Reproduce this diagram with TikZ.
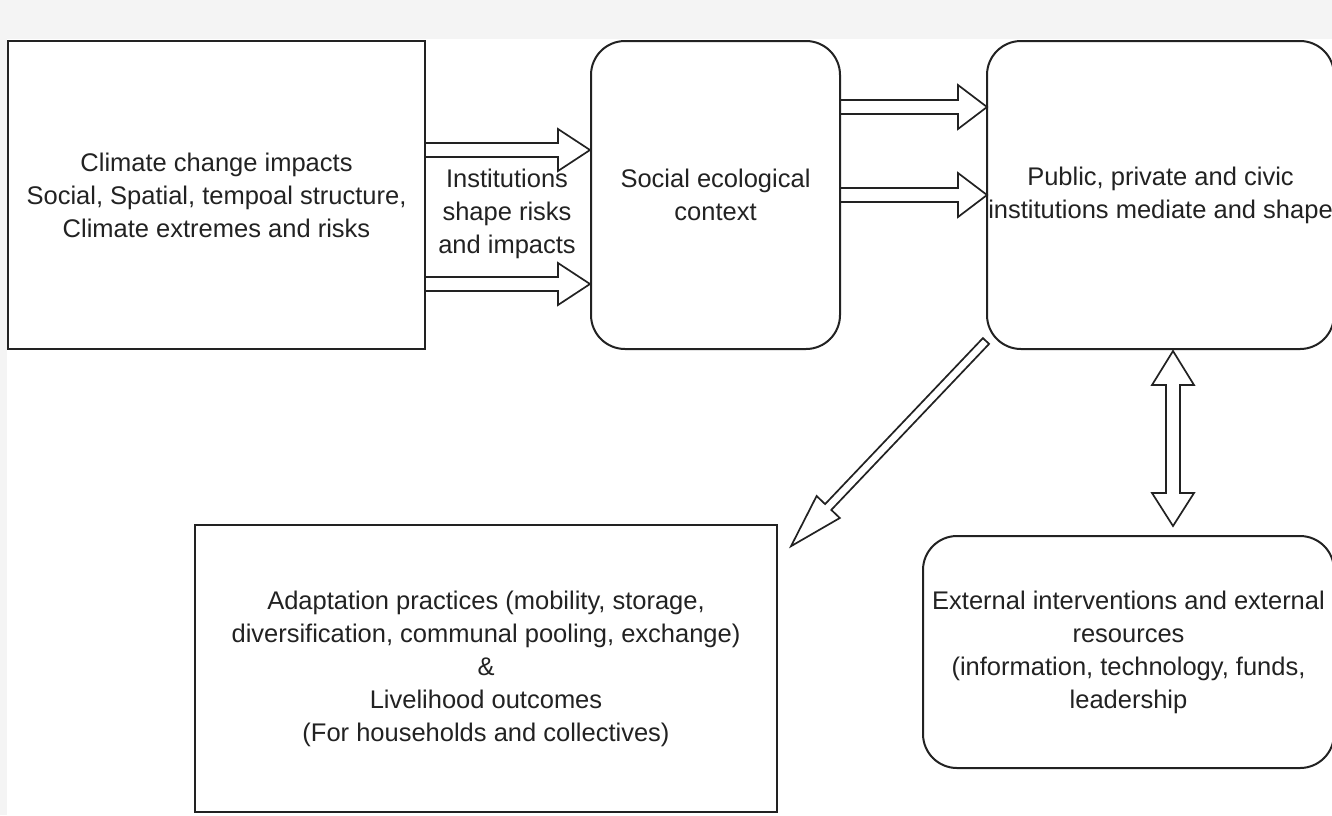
\documentclass[tikz,border=0pt]{standalone}
\usepackage{fontspec}
\setmainfont{Liberation Sans}
\definecolor{bgc}{RGB}{244,244,244}
\definecolor{ink}{RGB}{34,34,34}
\begin{document}
\begin{tikzpicture}[x=1pt,y=-1pt,
  txt/.style={font=\fontsize{25.5}{33}\selectfont, text=ink, align=center, inner sep=0pt},
  sqbox/.style={txt, draw=ink, line width=2pt, rectangle},
  rbox/.style={txt, draw=ink, line width=2pt, rectangle, rounded corners=34pt},
  blk/.style={draw=ink, line width=1.7pt, line join=miter}]
\useasboundingbox (0,0) rectangle (1332,815);
% page background
\fill[bgc] (0,0) rectangle (1332,815);
\fill[white] (7,39) rectangle (1332,815);

% boxes
\node[sqbox, minimum width=417pt, minimum height=308pt] (A) at (216.5,195)
  {Climate change impacts\\Social, Spatial, tempoal structure,\\Climate extremes and risks};
\node[rbox, minimum width=249pt, minimum height=308pt] (B) at (715.5,195)
  {Social ecological\\context};
\node[rbox, minimum width=347pt, minimum height=308pt] (C) at (1160.5,195)
  {Public, private and civic\\institutions mediate and shape};
\node[sqbox, minimum width=582pt, minimum height=287pt] (D) at (486,668.5)
  {Adaptation practices (mobility, storage,\\diversification, communal pooling, exchange)\\\&\\Livelihood outcomes\\(For households and collectives)};
\node[rbox, minimum width=411pt, minimum height=232pt] (E) at (1128.5,652)
  {External interventions and external\\resources\\(information, technology, funds,\\leadership};
\node[txt] (L) at (507,214) {Institutions\\shape risks\\and impacts};

% block arrows from the climate box to the social ecological context
\draw[blk] (A.east |- 0,143) -- ++(132,0) -- ++(0,-14) -- ++(32,21)
  -- ++(-32,21) -- ++(0,-14) -- ++(-132,0);
\draw[blk] (A.east |- 0,277) -- ++(132,0) -- ++(0,-14) -- ++(32,21)
  -- ++(-32,21) -- ++(0,-14) -- ++(-132,0);

% block arrows from the context to the institutions
\draw[blk] (B.east |- 0,100) -- ++(117,0) -- ++(0,-15) -- ++(29,22)
  -- ++(-29,22) -- ++(0,-15) -- ++(-117,0);
\draw[blk] (B.east |- 0,188) -- ++(117,0) -- ++(0,-15) -- ++(29,22)
  -- ++(-29,22) -- ++(0,-15) -- ++(-117,0);

% diagonal block arrow towards adaptation practices
\draw[blk] (C.south west) ++(-3.1,-11.9) -- ++(-157.8,166.0) -- ++(-8.5,-8.1)
  -- ++(-25.6,50.2) -- ++(48.8,-28.2) -- ++(-8.5,-8.1) -- ++(157.8,-166.0) -- cycle;

% two-way block arrow between institutions and external interventions
\draw[blk] (C.south) ++(12.5,1) -- ++(21,34) -- ++(-14,0) -- ++(0,108)
  -- ++(14,0) -- ++(-21,33) -- ++(-21,-33) -- ++(14,0) -- ++(0,-108)
  -- ++(-14,0) -- cycle;
\end{tikzpicture}
\end{document}
